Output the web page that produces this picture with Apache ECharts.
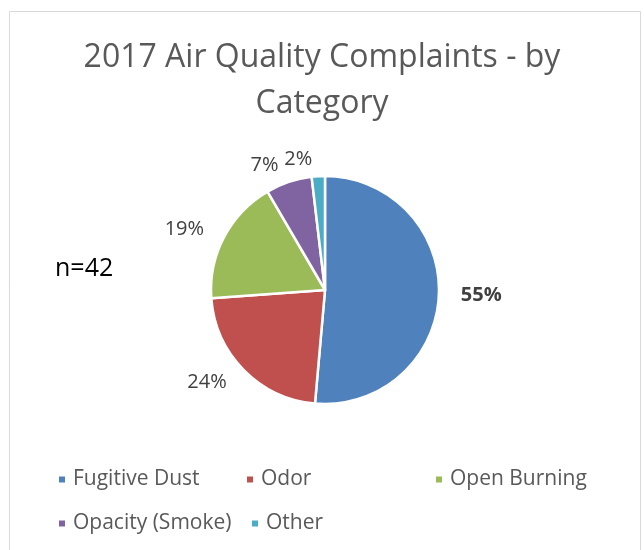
<!DOCTYPE html>
<html>
<head>
<meta charset="utf-8">
<script src="https://cdn.jsdelivr.net/npm/echarts@6/dist/echarts.min.js"></script>
<style>
  html, body { margin: 0; padding: 0; background: #fff; }
  #chart { width: 644px; height: 550px; }
</style>
</head>
<body>
<div id="chart"></div>
<script>
// data
const categories = ['Fugitive Dust', 'Odor', 'Open Burning', 'Opacity (Smoke)', 'Other']
const percents = [55, 24, 19, 7, 2]
const colors = ['#4f81bd', '#c0504d', '#9bbb59', '#8064a2', '#4bacc6']
const sampleLabel = 'n=42'

const font = "'Open Sans', sans-serif"

// legend item positions (Excel lays them out in loose columns)
const legendSpots = [
  { left: 52, top: 464 },
  { left: 240, top: 464 },
  { left: 429, top: 464 },
  { left: 52, top: 508 },
  { left: 245, top: 508 },
]

const chart = echarts.init(document.getElementById('chart'))

chart.setOption({
  backgroundColor: '#fff',
  animation: false,
  title: {
    text: '2017 Air Quality Complaints - by\nCategory',
    left: 'center',
    top: 30,
    textStyle: {
      fontFamily: font,
      fontSize: 32,
      fontWeight: 'normal',
      color: '#595959',
      lineHeight: 46,
    },
  },
  legend: categories.map((name, i) => ({
    data: [name],
    left: legendSpots[i].left,
    top: legendSpots[i].top,
    icon: 'rect',
    itemWidth: 8,
    itemHeight: 8,
    itemGap: 0,
    selectedMode: false,
    textStyle: { fontFamily: font, fontSize: 21, color: '#595959', padding: [0, 0, 0, 2] },
  })),
  graphic: [
    {
      type: 'rect',
      shape: { x: 9.5, y: 11.5, width: 631, height: 560 },
      style: { fill: 'none', stroke: '#d9d9d9', lineWidth: 1 },
      silent: true,
    },
    {
      type: 'text',
      left: 55,
      top: 256,
      style: { text: sampleLabel, fontFamily: font, fontSize: 25, fill: '#000' },
    },
  ],
  series: [
    {
      type: 'pie',
      center: [325, 290],
      radius: [0, 114],
      startAngle: 90,
      clockwise: true,
      avoidLabelOverlap: false,
      itemStyle: { borderColor: '#fff', borderWidth: 2.5 },
      label: {
        show: true,
        position: 'outside',
        formatter: '{c}%',
        fontFamily: font,
        fontSize: 20,
        color: '#404040',
      },
      labelLine: { show: false, length: 17, length2: 0 },
      emphasis: { disabled: true },
      data: categories.map((name, i) => ({
        name,
        value: percents[i],
        itemStyle: { color: colors[i] },
        label: i === 0 ? { fontWeight: 'bold' } : undefined,
      })),
    },
  ],
})
</script>
</body>
</html>
